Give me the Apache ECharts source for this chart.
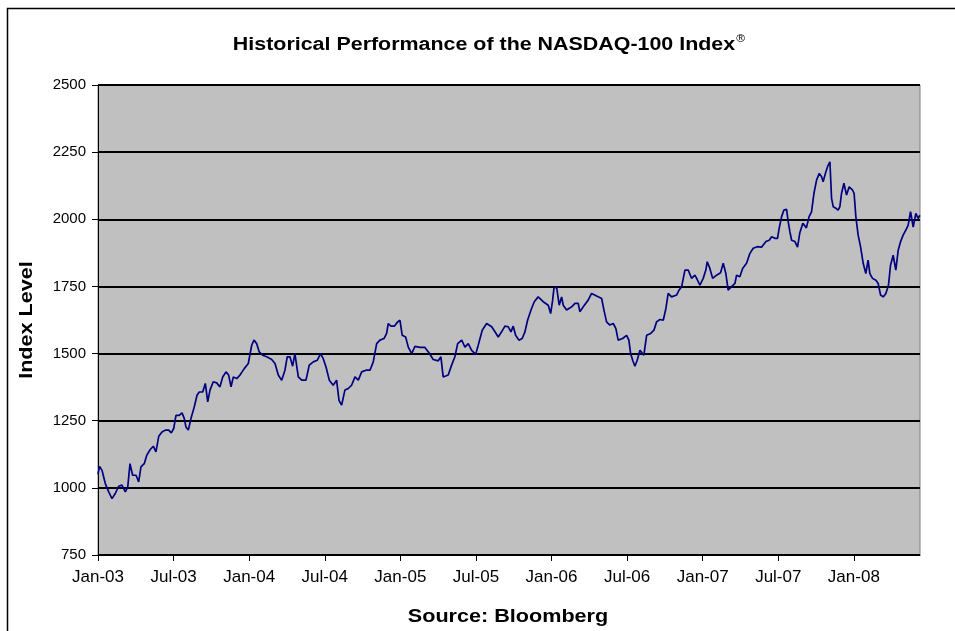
<!DOCTYPE html>
<html>
<head>
<meta charset="utf-8">
<script src="https://cdn.jsdelivr.net/npm/echarts@6/dist/echarts.min.js"></script>
<style>
html,body{margin:0;padding:0;background:#fff;}
#chart{width:955px;height:631px;}
</style>
</head>
<body>
<div id="chart"></div>
<script>
// Months elapsed since 1 Jan 2003 (x values)
var monthOffsets = [
0,0.12,0.32,0.58,0.85,1.11,1.37,1.64,1.90,2.17,2.36,2.54,2.75,3.02,3.23,3.41,3.67,3.87,4.13,4.39,4.60,4.82,5.08,5.34,5.61,5.82,6.01,6.19,6.45,6.67,6.85,6.98,7.17,7.38,7.64,7.86,8.04,8.31,8.52,8.71,8.89,9.15,9.42,9.68,9.90,10.16,10.37,10.56,10.74,11.01,11.27,11.61,
11.93,12.20,12.38,12.60,12.80,13.07,13.39,13.79,14.05,14.31,14.58,14.84,15.02,15.24,15.45,15.63,15.90,16.17,16.51,16.77,17.09,17.40,17.67,17.88,18.10,18.36,18.67,18.94,19.13,19.34,19.60,19.87,20.13,20.40,20.66,20.93,21.27,21.59,21.85,22.12,22.38,22.70,22.91,23.04,
23.25,23.52,23.79,23.97,24.15,24.42,24.63,24.90,25.16,25.56,25.95,26.27,26.61,27.01,27.22,27.40,27.80,28.07,28.33,28.55,28.87,29.13,29.39,29.66,29.98,30.18,30.50,30.85,31.25,31.51,31.77,32.04,32.30,32.56,32.78,32.96,33.15,33.41,33.67,33.89,34.10,34.37,34.63,
34.94,35.34,35.74,35.93,36.09,36.19,36.40,36.61,36.80,36.93,37.20,37.60,37.86,38.12,38.25,38.52,38.91,39.18,39.58,39.98,40.16,40.37,40.63,40.90,41.11,41.29,41.64,41.96,42.14,42.28,42.44,42.62,42.80,43.02,43.33,43.55,43.87,44.13,44.34,44.60,44.87,45.08,45.26,45.53,45.93,46.13,
46.33,46.59,46.85,47.12,47.38,47.52,47.78,48.04,48.25,48.36,48.57,48.79,49.10,49.42,49.63,49.84,50.02,50.29,50.56,50.69,50.95,51.17,51.48,51.75,52.01,52.33,52.67,53.02,53.28,53.47,53.73,53.94,54.07,54.26,54.44,54.66,54.79,54.92,55.06,55.32,55.53,55.71,55.95,56.23,56.45,56.64,56.83,57.04,57.25,57.44,57.56,57.78,57.96,58.10,58.23,58.36,58.57,58.75,58.89,59.02,59.21,59.42,59.63,59.90,60.02,60.16,60.34,60.53,60.74,60.95,61.13,61.27,61.48,61.75,61.93,62.12,62.33,62.54,62.75,62.91,63.12,63.33,63.52,63.71,63.91,64.13,64.31,64.50,64.71,64.92,65.10,65.24
];
// NASDAQ-100 index level
var indexLevels = [
1050,1080,1065,1016,985,960,979,1006,1010,985,1003,1090,1047,1047,1022,1078,1090,1121,1142,1155,1134,1192,1208,1215,1215,1205,1221,1270,1270,1279,1258,1227,1215,1258,1301,1345,1357,1357,1389,1320,1364,1395,1391,1376,1413,1432,1420,1376,1413,1407,1420,1444,
1463,1531,1550,1537,1506,1494,1488,1478,1463,1420,1401,1438,1488,1488,1453,1500,1413,1401,1401,1457,1469,1475,1500,1481,1450,1401,1382,1401,1326,1308,1364,1370,1382,1413,1401,1432,1438,1438,1469,1537,1550,1556,1575,1612,
1602,1602,1618,1624,1568,1562,1524,1500,1527,1523,1523,1503,1478,1473,1488,1413,1420,1457,1488,1537,1550,1524,1537,1512,1497,1531,1587,1612,1600,1581,1562,1581,1602,1600,1581,1602,1568,1550,1556,1581,1624,1662,1693,
1711,1693,1680,1649,1699,1743,1749,1680,1711,1680,1662,1674,1687,1687,1656,1674,1699,1724,1714,1705,1662,1618,1606,1612,1593,1550,1556,1568,1550,1500,1475,1453,1475,1512,1494,1568,1575,1587,1618,1627,1624,1668,1724,1711,1718,1737,
1749,1811,1811,1780,1792,1780,1755,1780,1811,1842,1817,1780,1792,1801,1836,1798,1736,1749,1761,1792,1786,1817,1836,1873,1892,1898,1896,1917,1922,1935,1929,1929,1966,2009,2034,2037,1990,1954,1922,1917,1896,1950,1985,1968,2010,2028,2096,2146,2171,2158,2140,2177,2202,2214,2078,2047,2041,2034,2047,2096,2134,2090,2121,2109,2096,2009,1941,1898,1836,1798,1848,1798,1780,1773,1761,1718,1711,1724,1755,1829,1866,1811,1885,1917,1941,1960,1978,2028,1971,2022,2003,2015
];
var monthNames = ['Jan','Jul'];
var yTicks = [750, 2500, 250]; // min, max, step
var titleText = 'Historical Performance of the NASDAQ-100 Index';
var yName = 'Index Level';
var xName = 'Source: Bloomberg';

var seriesData = monthOffsets.map(function(m, i){ return [m, indexLevels[i]]; });
var FONT = '"Liberation Sans", Arial, sans-serif';

var chart = echarts.init(document.getElementById('chart'), null, {renderer:'canvas'});
chart.setOption({
  animation: false,
  backgroundColor: '#ffffff',
  graphic: [
    {type:'rect', shape:{x:7.5, y:8.5, width:970, height:700}, style:{fill:'none', stroke:'#000', lineWidth:1.5}, silent:true},
    {type:'text', x:489, y:45, scaleX:1.19, style:{
      text:'{a|' + titleText + '}{b|®}', align:'center', verticalAlign:'middle',
      rich:{
        a:{fontFamily:FONT, fontWeight:'bold', fontSize:18, fill:'#000'},
        b:{fontFamily:FONT, fontSize:10, fill:'#000', verticalAlign:'top', padding:[0,0,12,1]}
      }
    }},
    {type:'text', x:27, y:320, rotation:Math.PI/2, scaleX:1.2, style:{
      text:yName, align:'center', verticalAlign:'middle',
      fontFamily:FONT, fontWeight:'bold', fontSize:18, fill:'#000'
    }},
    {type:'text', x:508, y:617, scaleX:1.2, style:{
      text:xName, align:'center', verticalAlign:'middle',
      fontFamily:FONT, fontWeight:'bold', fontSize:18, fill:'#000'
    }}
  ],
  grid: {left:98, right:35, top:85, bottom:76, show:true, backgroundColor:'#C0C0C0', borderColor:'#808080', borderWidth:1},
  xAxis: {
    type:'value', min:0, max:65.25, interval:6,
    axisLine:{show:true, lineStyle:{color:'#000', width:1}},
    axisTick:{show:true, length:6, inside:false, lineStyle:{color:'#000'}},
    splitLine:{show:false},
    axisLabel:{
      fontFamily:FONT, fontSize:17, color:'#000', margin:14, showMaxLabel:false,
      formatter:function(v){
        if (Math.abs(v % 6) > 1e-6) return '';
        var yr = 3 + Math.floor(v/12);
        var mn = monthNames[(v % 12) === 0 ? 0 : 1];
        return mn + '-' + (yr < 10 ? '0' + yr : yr);
      }
    }
  },
  yAxis: {
    type:'value', min:yTicks[0], max:yTicks[1], interval:yTicks[2],
    axisLine:{show:true, lineStyle:{color:'#000', width:1}},
    axisTick:{show:true, length:6, inside:false, lineStyle:{color:'#000'}},
    splitLine:{show:true, lineStyle:{color:'#000', width:2}},
    axisLabel:{fontFamily:FONT, fontSize:15, color:'#000', margin:12,
      formatter:function(v){ return String(v); }}
  },
  series: [{
    type:'line', data:seriesData, showSymbol:false, symbol:'none',
    lineStyle:{color:'#000080', width:1.7}, z:5
  }]
});
</script>
</body>
</html>
